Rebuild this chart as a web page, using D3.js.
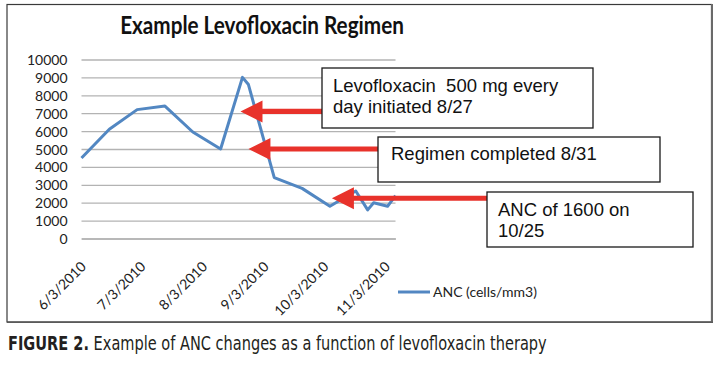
<!DOCTYPE html>
<html>
<head>
<meta charset="utf-8">
<script src="https://cdn.jsdelivr.net/npm/d3@7"></script>
<style>
  html, body { margin: 0; padding: 0; background: #fff; }
  svg { display: block; }
</style>
</head>
<body>
<svg id="chart" width="728" height="365"></svg>
<script>
// ---------------- DATA ----------------
const titleText = "Example Levofloxacin Regimen";
const seriesName = "ANC (cells/mm3)";
const dates = ["2010-06-03", "2010-06-17", "2010-07-01", "2010-07-15", "2010-07-29", "2010-08-12",
               "2010-08-23", "2010-08-26", "2010-09-08", "2010-09-22", "2010-10-06", "2010-10-19",
               "2010-10-25", "2010-10-28", "2010-11-04", "2010-11-08"];
const ancValues = [4500, 6100, 7200, 7400, 5950, 5000, 9000, 8600, 3400, 2800, 1800, 2650, 1600, 2000, 1800, 2400];
const xTickDates = ["2010-06-03", "2010-07-03", "2010-08-03", "2010-09-03", "2010-10-03", "2010-11-03"];
const yTickValues = [0, 1000, 2000, 3000, 4000, 5000, 6000, 7000, 8000, 9000, 10000];
const noteLines = [["Levofloxacin  500 mg every", "day initiated 8/27"], ["Regimen completed 8/31"], ["ANC of 1600 on", "10/25"]];
const noteTipDates = ["2010-08-22", "2010-08-26", "2010-10-07"];
const noteTipValues = [7100, 5000, 2250];
const captionBold = "FIGURE 2.";
const captionText = "Example of ANC changes as a function of levofloxacin therapy";

// ---------------- LAYOUT ----------------
const parse = d3.timeParse("%Y-%m-%d");
const fmt = d3.timeFormat("%-m/%-d/%Y");
const svg = d3.select("#chart");

const plot = { left: 81.5, right: 395.5, top: 59.5, bottom: 238.5 };
const x = d3.scaleTime().domain([parse("2010-06-03"), parse("2010-11-08")]).range([plot.left, plot.right]);
const y = d3.scaleLinear().domain([0, 10000]).range([plot.bottom, plot.top]);

const blue = "#5287c2", red = "#e8322b", grid = "#b3b3b3";
const uiFont = "Lato, 'Open Sans', sans-serif";

// outer frame
svg.append("rect").attr("x", 7).attr("y", 4.5).attr("width", 704.5).attr("height", 317.5)
  .attr("fill", "#fff").attr("stroke", "#3a3a3a").attr("stroke-width", 1.2);
svg.append("line").attr("x1", 712).attr("x2", 712).attr("y1", 4).attr("y2", 323)
  .attr("stroke", "#6a6a6a").attr("stroke-width", 2);
svg.append("line").attr("x1", 7).attr("x2", 713).attr("y1", 322.3).attr("y2", 322.3)
  .attr("stroke", "#5a5a5a").attr("stroke-width", 1.6);

// title (condensed horizontally to the original's width)
const title = svg.append("text").attr("text-anchor", "middle")
  .attr("font-family", uiFont).attr("font-weight", 700)
  .attr("font-size", 24.5).attr("fill", "#111").text(titleText);
{
  const w = title.node().getComputedTextLength();
  title.attr("transform", `translate(262,34) scale(${284 / w},1)`);
}

// gridlines + y labels
const yAxis = d3.axisLeft(y).tickValues(yTickValues).tickFormat(d3.format("d"))
  .tickSize(-(plot.right - plot.left)).tickPadding(14);
const gy = svg.append("g").attr("transform", `translate(${plot.left},0)`).call(yAxis);
gy.select(".domain").remove();
gy.selectAll(".tick line").attr("stroke", grid).attr("stroke-width", 1.3);
gy.selectAll(".tick text").attr("font-family", uiFont).attr("font-size", 14)
  .attr("fill", "#222").attr("dy", "0.36em");

// x axis labels
const gx = svg.append("g").attr("transform", `translate(0,${plot.bottom})`)
  .call(d3.axisBottom(x).tickValues(xTickDates.map(parse)).tickFormat(fmt).tickSize(0));
gx.select(".domain").attr("stroke", grid).attr("stroke-width", 1.3);
gx.selectAll(".tick text")
  .attr("font-family", uiFont).attr("font-size", 14).attr("fill", "#222")
  .attr("text-anchor", "end").attr("y", 0).attr("dy", 0)
  .attr("transform", "translate(5,29) rotate(-45)");

// line
const pts = dates.map((d, i) => ({ date: parse(d), v: ancValues[i] }));
svg.append("path").datum(pts)
  .attr("fill", "none").attr("stroke", blue).attr("stroke-width", 3).attr("stroke-linejoin", "round")
  .attr("d", d3.line().x(d => x(d.date)).y(d => y(d.v)));

// annotation boxes and arrows
const boxes = [
  { x: 322, y: 68, w: 271, h: 60, tx: 333, ty: 92, lh: 21 },
  { x: 378, y: 137, w: 282, h: 45, tx: 391, ty: 160, lh: 21 },
  { x: 487, y: 192, w: 206, h: 55, tx: 498, ty: 216, lh: 21 }
];
noteLines.forEach((lines, i) => {
  const b = boxes[i];
  const tipX = x(parse(noteTipDates[i])), tipY = y(noteTipValues[i]);
  const headLen = 22, headHalf = 11, shaftHalf = 2.6;
  svg.append("path").attr("fill", red)
    .attr("d", `M${tipX},${tipY} L${tipX + headLen},${tipY - headHalf} L${tipX + headLen},${tipY - shaftHalf}
                L${b.x},${tipY - shaftHalf} L${b.x},${tipY + shaftHalf} L${tipX + headLen},${tipY + shaftHalf}
                L${tipX + headLen},${tipY + headHalf} Z`);
  svg.append("rect").attr("x", b.x).attr("y", b.y).attr("width", b.w).attr("height", b.h)
    .attr("fill", "#fff").attr("stroke", "#1a1a1a").attr("stroke-width", 1.3);
  const t = svg.append("text").attr("font-family", "'Liberation Sans', Arial, sans-serif")
    .attr("font-size", 18.5).attr("fill", "#111").style("white-space", "pre");
  lines.forEach((ln, j) => t.append("tspan").attr("x", b.tx).attr("y", b.ty + j * b.lh).text(ln));
});

// legend
svg.append("line").attr("x1", 398).attr("x2", 430).attr("y1", 292).attr("y2", 292)
  .attr("stroke", blue).attr("stroke-width", 3);
svg.append("text").attr("x", 433).attr("y", 297).attr("font-family", uiFont)
  .attr("font-size", 14).attr("fill", "#222").text(seriesName);

// caption (one text, horizontally condensed to match the original condensed face)
const capFont = "'DejaVu Sans Condensed', 'Liberation Sans', sans-serif";
const cap = svg.append("text").attr("font-family", capFont).attr("font-size", 19.5)
  .attr("fill", "#231f20").style("white-space", "pre");
cap.append("tspan").attr("font-weight", 700).text(captionBold);
cap.append("tspan").text(" " + captionText);
{
  const w = cap.node().getComputedTextLength();
  const k = (547 - 8) / w;
  cap.attr("transform", `translate(8,350) scale(${k},1)`);
}
</script>
</body>
</html>
